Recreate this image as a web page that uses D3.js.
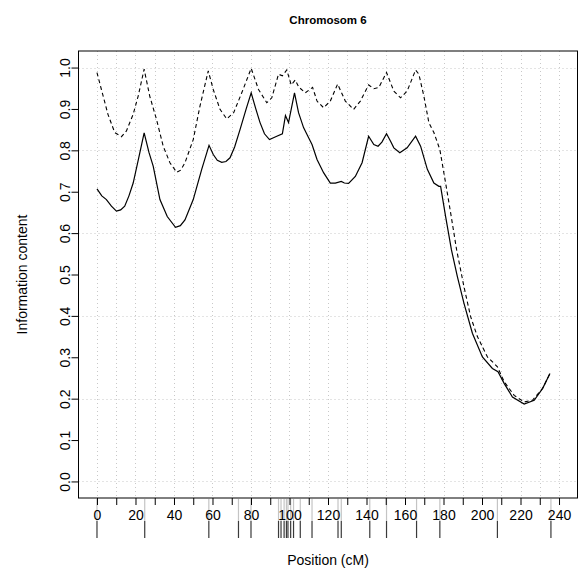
<!DOCTYPE html>
<html>
<head>
<meta charset="utf-8">
<script src="https://cdn.jsdelivr.net/npm/d3@7"></script>
<style>
  html, body { margin: 0; padding: 0; background: #fff; }
  svg { display: block; font-family: "Liberation Sans", Arial, Helvetica, sans-serif; }
</style>
</head>
<body>
<svg id="chart" width="578" height="572"></svg>
<script>
// Information content along chromosome 6 (position in cM)
const solidPos = [0, 2.5, 4.9, 7.5, 10.1, 12.3, 14.4, 16.6, 18.8, 21.6, 24.5, 27, 29.2, 32.7, 36.5, 40.8, 43.3, 45.7, 50, 54.4,
  58.2, 60.4, 62.5, 64.8, 67, 69.1, 71.5, 74.3, 77.5, 80.1, 82.5, 84.7, 87, 89.6, 93.4, 96.3, 97.9, 99.5, 102.6, 104.7,
  107.3, 110, 111.7, 114.3, 117.7, 121.2, 123.8, 126.9, 128.5, 130.7, 134.2, 137.7, 141.1, 143.8, 146, 148, 150.4, 152.5, 154.2, 157.3,
  161.1, 165.5, 168.1, 171.6, 175, 177.6, 178.5, 181.1, 184.1, 187.2, 190.6, 195, 200.2, 205.4, 208.3, 211.5, 215.8, 221.9, 227.1, 231.5, 235.3];
const solidInfo = [0.707, 0.690, 0.681, 0.665, 0.653, 0.656, 0.665, 0.690, 0.721, 0.780, 0.842, 0.795, 0.762, 0.681, 0.640, 0.614, 0.618, 0.632, 0.681, 0.754,
  0.812, 0.790, 0.776, 0.771, 0.773, 0.782, 0.808, 0.850, 0.900, 0.939, 0.900, 0.867, 0.840, 0.826, 0.834, 0.840, 0.884, 0.867, 0.939, 0.891,
  0.855, 0.830, 0.814, 0.778, 0.746, 0.721, 0.721, 0.725, 0.721, 0.720, 0.737, 0.770, 0.834, 0.814, 0.810, 0.820, 0.840, 0.822, 0.806, 0.794,
  0.806, 0.834, 0.810, 0.754, 0.721, 0.713, 0.713, 0.640, 0.560, 0.495, 0.431, 0.358, 0.301, 0.273, 0.265, 0.237, 0.204, 0.187, 0.196, 0.225, 0.261];

const dashedPos = [0, 2.3, 5.7, 9.2, 12.7, 15.3, 18.8, 21.4, 24.5, 27.4, 30.9, 34.4, 37.9, 41.4, 43.5, 45.7, 50, 53.5, 57.8, 60.4,
  63.9, 67.4, 71, 75.2, 80.1, 83.9, 88.2, 90.8, 94.3, 96.3, 98.6, 100.9, 103, 104.8, 108.2, 112, 114.3, 117.7, 121.2, 125,
  129, 133.3, 136.8, 141.1, 143.8, 146.4, 150.4, 154.2, 157.7, 161.1, 165.5, 167.2, 169.8, 172.4, 175, 178.1, 181.1, 183.7, 186.8, 190.6,
  194.1, 197.6, 202.8, 208, 211.5, 216.7, 221.9, 226.2, 231.5, 235.3];
const dashedInfo = [0.988, 0.947, 0.887, 0.843, 0.833, 0.847, 0.887, 0.931, 0.996, 0.931, 0.875, 0.810, 0.770, 0.747, 0.752, 0.770, 0.826, 0.907, 0.992, 0.947,
  0.899, 0.876, 0.891, 0.939, 0.998, 0.947, 0.915, 0.927, 0.984, 0.980, 0.994, 0.958, 0.970, 0.953, 0.939, 0.952, 0.919, 0.903, 0.919, 0.960,
  0.919, 0.899, 0.919, 0.958, 0.949, 0.952, 0.988, 0.943, 0.927, 0.943, 0.994, 0.984, 0.931, 0.867, 0.843, 0.802, 0.721, 0.649, 0.560, 0.471,
  0.398, 0.350, 0.301, 0.277, 0.241, 0.208, 0.192, 0.196, 0.225, 0.261];

// Marker positions (cM) shown as a rug under the axis
const markerPos = [0, 24.8, 58.1, 73.5, 80, 94.3, 95.6, 97.2, 98.4, 99.2, 100.6, 102.1, 105.6, 111.7, 125.2, 126.9, 141.7, 150.4, 166, 178.1, 208, 235.8];

const xTicks = d3.range(0, 241, 10);
const xLabels = d3.range(0, 241, 20);
const yTicks = d3.range(0, 11).map(d => d / 10);
const yGrid = [0, 0.2, 0.4, 0.6, 0.8, 1.0];

const titleText = "Chromosom 6";
const xTitle = "Position (cM)";
const yTitle = "Information content";

const svg = d3.select("#chart");
const box = { left: 78.5, right: 577.5, top: 51, bottom: 498 };

const x = d3.scaleLinear().domain([-9.6, 249.6]).range([box.left, box.right]);
const y = d3.scaleLinear().domain([-0.04, 1.04]).range([box.bottom, box.top]);

// Grid
const grid = svg.append("g").attr("stroke", "#c8c8c8").attr("stroke-width", 1).attr("stroke-dasharray", "1,3");
grid.selectAll("line.v").data(xTicks).join("line")
  .attr("x1", d => Math.round(x(d)) + 0.5).attr("x2", d => Math.round(x(d)) + 0.5)
  .attr("y1", box.top).attr("y2", box.bottom);
grid.selectAll("line.h").data(yGrid).join("line")
  .attr("y1", d => Math.round(y(d)) + 0.5).attr("y2", d => Math.round(y(d)) + 0.5)
  .attr("x1", box.left).attr("x2", box.right);

// Marker rug: light upper part, darker lower part
const rug = svg.append("g");
rug.selectAll("line.up").data(markerPos).join("line")
  .attr("x1", d => x(d)).attr("x2", d => x(d))
  .attr("y1", box.bottom + 1).attr("y2", 521)
  .attr("stroke", "#c4c4c4").attr("stroke-width", 1.2);
rug.selectAll("line.low").data(markerPos).join("line")
  .attr("x1", d => x(d)).attr("x2", d => x(d))
  .attr("y1", 521).attr("y2", 538)
  .attr("stroke", "#3a3a3a").attr("stroke-width", 1.2);

// Curves
const line = d3.line().x(d => x(d[0])).y(d => y(d[1]));
svg.append("path")
  .datum(dashedPos.map((p, i) => [p, dashedInfo[i]]))
  .attr("d", line).attr("fill", "none").attr("stroke", "#000")
  .attr("stroke-width", 1.1).attr("stroke-dasharray", "4,3");
svg.append("path")
  .datum(solidPos.map((p, i) => [p, solidInfo[i]]))
  .attr("d", line).attr("fill", "none").attr("stroke", "#000")
  .attr("stroke-width", 1.2);

// Axes
const xAxis = d3.axisBottom(x).tickValues(xTicks).tickSizeInner(7).tickSizeOuter(0)
  .tickFormat(d => xLabels.includes(d) ? String(d) : "");
const gx = svg.append("g").attr("transform", `translate(0,${box.bottom})`).call(xAxis);
gx.select(".domain").remove();
gx.selectAll(".tick line").attr("stroke", "#000");
gx.selectAll(".tick text").attr("y", 18).attr("dy", "0.32em")
  .attr("font-size", 14).attr("font-family", "Liberation Sans, Arial, sans-serif").attr("fill", "#000");

const yAxis = d3.axisLeft(y).tickValues(yTicks).tickSizeInner(7).tickSizeOuter(0)
  .tickFormat(d3.format(".1f"));
const gy = svg.append("g").attr("transform", `translate(${box.left},0)`).call(yAxis);
gy.select(".domain").remove();
gy.selectAll(".tick line").attr("stroke", "#000");
gy.selectAll(".tick text")
  .attr("x", null).attr("dy", null)
  .attr("transform", "translate(-9,0) rotate(-90)")
  .attr("text-anchor", "middle").attr("y", 0)
  .attr("font-size", 14).attr("font-family", "Liberation Sans, Arial, sans-serif").attr("fill", "#000");

// Plot frame
svg.append("rect")
  .attr("x", box.left).attr("y", box.top)
  .attr("width", box.right - box.left).attr("height", box.bottom - box.top)
  .attr("fill", "none").attr("stroke", "#000").attr("stroke-width", 1);

// Titles
svg.append("text").attr("x", (box.left + box.right) / 2).attr("y", 24)
  .attr("text-anchor", "middle").attr("font-weight", "bold").attr("font-size", 11.5)
  .text(titleText);
svg.append("text").attr("x", (box.left + box.right) / 2).attr("y", 565)
  .attr("text-anchor", "middle").attr("font-size", 14)
  .text(xTitle);
svg.append("text").attr("transform", `translate(26.5,${(box.top + box.bottom) / 2}) rotate(-90)`)
  .attr("text-anchor", "middle").attr("font-size", 14)
  .text(yTitle);
</script>
</body>
</html>
